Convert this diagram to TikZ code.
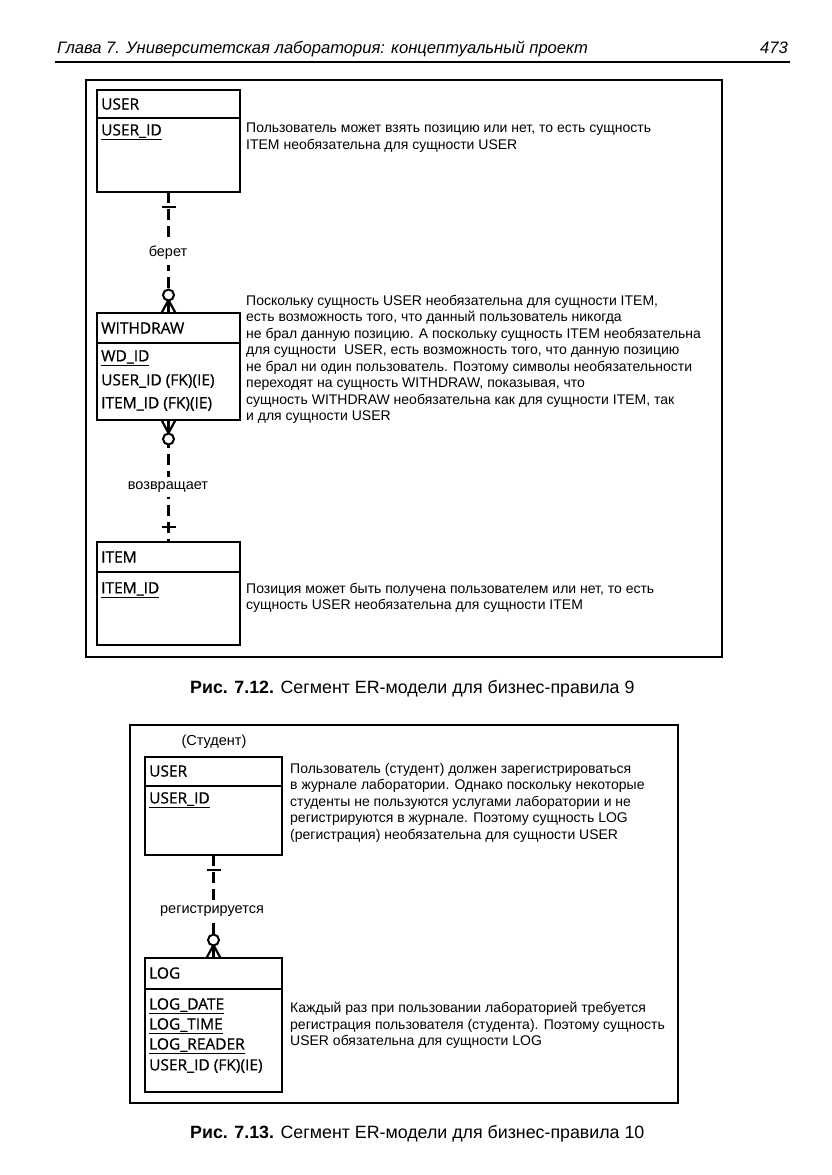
\documentclass[tikz,border=0pt]{standalone}
\usepackage{fontspec}
\setmainfont{Liberation Sans}
\newfontfamily\entfont[FakeBold=0.8]{Open Sans}
\newfontfamily\headfont{Liberation Sans}
\usetikzlibrary{positioning}

\tikzset{
  entbox/.style={draw, line width=2.2pt, anchor=north west, inner sep=0pt, outer sep=0pt},
  entsep/.style={line width=1.7pt},
  ent/.style={anchor=west, inner sep=0pt, font=\entfont\fontsize{15.5}{18}\selectfont},
  note/.style={anchor=north west, inner sep=0pt, align=left, font=\fontsize{14}{16.5}\selectfont},
  rel/.style={line width=2.2pt, dash pattern=on 11pt off 6pt},
  relend/.style={line width=2.2pt},
  optcirc/.style={circle, draw, fill=white, line width=2pt, minimum size=11pt, inner sep=0pt},
  relname/.style={fill=white, inner xsep=2pt, inner ysep=5pt, font=\fontsize{14.5}{16}\selectfont},
  frame/.style={line width=1.3pt},
  caption/.style={anchor=base west, inner sep=0pt, font=\fontsize{17.8}{20}\selectfont}
}

\begin{document}
\begin{tikzpicture}[x=1pt,y=-1pt]
\useasboundingbox (0,0) rectangle (831,1175);
% page header
\node[anchor=base west, inner sep=0pt, font=\headfont\itshape\fontsize{16.6}{19}\selectfont] (head) at (57,53) {Глава 7. Университетская лаборатория: концептуальный проект};
\node[anchor=base east, inner sep=0pt, font=\headfont\itshape\fontsize{16.6}{19}\selectfont] (pagenum) at (788,53) {473};
\draw[line width=1.6pt] (55,62) -- (790,62);

% ---- figure 7.12 ----
\draw[frame] (86,80) rectangle (722,657);
% USER
\node[entbox, minimum width=143pt, minimum height=102pt] (user) at (97,90) {};
\draw[entsep] ([yshift=-28pt]user.north west) -- ([yshift=-28pt]user.north east);
\node[ent] (username) at (101,104) {USER};
\node[ent] (userkey) at (101,132) {\underline{USER\_ID}};
\node[note] (note1) at (246,123) {Пользователь может взять позицию или нет, то есть сущность\\ITEM необязательна для сущности USER};
% WITHDRAW
\node[entbox, minimum width=143pt, minimum height=107pt] (withdraw) at (97,313) {};
\draw[entsep] ([yshift=-30pt]withdraw.north west) -- ([yshift=-30pt]withdraw.north east);
\node[ent] (wdname) at (101,328) {WITHDRAW};
\node[ent] (wdkey) at (101,358) {\underline{WD\_ID}};
\node[ent] (wduser) at (101,381) {USER\_ID (FK)(IE)};
\node[ent] (wditem) at (101,404) {ITEM\_ID (FK)(IE)};
\node[note] (note2) at (246,295) {Поскольку сущность USER необязательна для сущности ITEM,\\есть возможность того, что данный пользователь никогда\\не брал данную позицию. А поскольку сущность ITEM необязательна\\для сущности\ \ USER, есть возможность того, что данную позицию\\не брал ни один пользователь. Поэтому символы необязательности\\переходят на сущность WITHDRAW, показывая, что\\сущность WITHDRAW необязательна как для сущности ITEM, так\\и для сущности USER};
% ITEM
\node[entbox, minimum width=143pt, minimum height=103pt] (item) at (97,542) {};
\draw[entsep] ([yshift=-30pt]item.north west) -- ([yshift=-30pt]item.north east);
\node[ent] (itemname) at (101,557) {ITEM};
\node[ent] (itemkey) at (101,590) {\underline{ITEM\_ID}};
\node[note] (note3) at (246,583) {Позиция может быть получена пользователем или нет, то есть\\сущность USER необязательна для сущности ITEM};

% USER -- WITHDRAW
\draw[rel] (user.south) -- (withdraw.north);
\node[relname] (takes) at (168,253) {берет};
\draw[relend] ([xshift=-7pt,yshift=-15pt]user.south) -- ([xshift=7pt,yshift=-15pt]user.south);
\coordinate (cf1) at ([yshift=13pt]withdraw.north);
\foreach \dx in {-7,0,7}{\draw[relend] (cf1) -- ([xshift=\dx pt]withdraw.north);}
\node[optcirc] (opt1) at ([yshift=18pt]withdraw.north) {};
% WITHDRAW -- ITEM
\draw[rel] (withdraw.south) -- (item.north);
\node[relname] (returns) at (168,487) {возвращает};
\draw[relend] ([xshift=-7pt,yshift=15pt]item.north) -- ([xshift=7pt,yshift=15pt]item.north);
\coordinate (cf2) at ([yshift=-13pt]withdraw.south);
\foreach \dx in {-7,0,7}{\draw[relend] (cf2) -- ([xshift=\dx pt]withdraw.south);}
\node[optcirc] (opt2) at ([yshift=-19pt]withdraw.south) {};

\node[caption] (cap1) at (190,693) {\textbf{Рис. 7.12.} Сегмент ER-модели для бизнес-правила 9};

% ---- figure 7.13 ----
\draw[frame] (130,725) rectangle (678,1103);
\node[font=\fontsize{14.5}{16}\selectfont] (student) at (214,742) {(Студент)};
% USER
\node[entbox, minimum width=137pt, minimum height=98pt] (user2) at (145,757) {};
\draw[entsep] ([yshift=-29pt]user2.north west) -- ([yshift=-29pt]user2.north east);
\node[ent] (user2name) at (149,771) {USER};
\node[ent] (user2key) at (149,800) {\underline{USER\_ID}};
\node[note] (note4) at (290,763) {Пользователь (студент) должен зарегистрироваться\\в журнале лаборатории. Однако поскольку некоторые\\студенты не пользуются услугами лаборатории и не\\регистрируются в журнале. Поэтому сущность LOG\\(регистрация) необязательна для сущности USER};
% LOG
\node[entbox, minimum width=137pt, minimum height=134pt] (log) at (145,958) {};
\draw[entsep] ([yshift=-31pt]log.north west) -- ([yshift=-31pt]log.north east);
\node[ent] (logname) at (149,973) {LOG};
\node[ent] (logdate) at (149,1006) {\underline{LOG\_DATE}};
\node[ent] (logtime) at (149,1026) {\underline{LOG\_TIME}};
\node[ent] (logreader) at (149,1046) {\underline{LOG\_READER}};
\node[ent] (loguser) at (149,1066) {USER\_ID (FK)(IE)};
\node[note] (note5) at (290,1002) {Каждый раз при пользовании лабораторией требуется\\регистрация пользователя (студента). Поэтому сущность\\USER обязательна для сущности LOG};

% USER -- LOG
\draw[rel] (user2.south) -- (log.north);
\node[relname] (registers) at (212,911) {регистрируется};
\draw[relend] ([xshift=-7pt,yshift=-15pt]user2.south) -- ([xshift=7pt,yshift=-15pt]user2.south);
\coordinate (cf3) at ([yshift=13pt]log.north);
\foreach \dx in {-7,0,7}{\draw[relend] (cf3) -- ([xshift=\dx pt]log.north);}
\node[optcirc] (opt3) at ([yshift=18pt]log.north) {};

\node[caption] (cap2) at (190,1138) {\textbf{Рис. 7.13.} Сегмент ER-модели для бизнес-правила 10};
\end{tikzpicture}
\end{document}
